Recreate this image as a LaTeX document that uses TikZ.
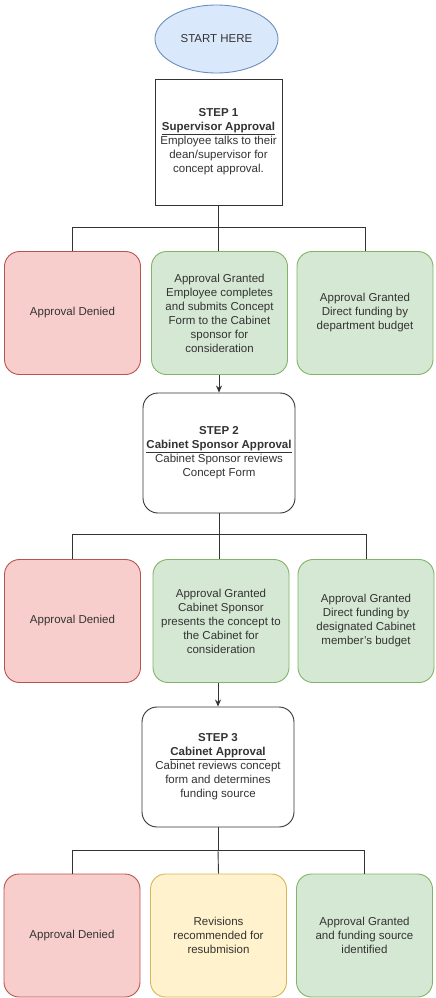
\documentclass[tikz,border=0pt]{standalone}
\usepackage{fontspec}
\setmainfont{Liberation Sans}
\usetikzlibrary{shapes.geometric,arrows.meta}
\definecolor{redfill}{HTML}{F8CECC}\definecolor{redline}{HTML}{B85450}
\definecolor{greenfill}{HTML}{D5E8D4}\definecolor{greenline}{HTML}{82B366}
\definecolor{yelfill}{HTML}{FFF2CC}\definecolor{yelline}{HTML}{D6B656}
\definecolor{bluefill}{HTML}{DAE8FC}\definecolor{blueline}{HTML}{6C8EBF}
\definecolor{txt}{HTML}{333333}
\tikzset{
  base/.style={draw, align=center, text=txt, font=\fontsize{11.5}{14}\selectfont, inner sep=2pt, line width=0.9pt},
  startnode/.style={base, ellipse, fill=bluefill, draw=blueline, minimum width=123pt, minimum height=68pt},
  stepsq/.style={base, rectangle, fill=white, draw=black!80, minimum width=127pt, minimum height=126pt},
  steprnd/.style={base, rectangle, rounded corners=15pt, fill=white, draw=black!80, minimum width=152pt, minimum height=120pt},
  outbox/.style={base, rectangle, rounded corners=15pt, minimum width=136pt, minimum height=123pt},
  denied/.style={outbox, fill=redfill, draw=redline},
  granted/.style={outbox, fill=greenfill, draw=greenline},
  revise/.style={outbox, fill=yelfill, draw=yelline},
  conn/.style={draw=black!80, line width=0.9pt},
  arr/.style={conn, -{Stealth[length=7pt,width=6pt]}}
}
\newcommand{\hd}[1]{\underline{\textbf{#1}}}
\begin{document}
\begin{tikzpicture}[x=1pt,y=-1pt]
\useasboundingbox (0,0) rectangle (436,998);
\node[startnode] (start) at (216.5,39) {START HERE};
\node[stepsq] (step1) at (218.5,142) {\textbf{STEP 1}\\\hd{Supervisor Approval}\\Employee talks to their\\dean/supervisor for\\concept approval.};

\node[denied] (d1) at (72.5,313) {Approval Denied};
\node[granted] (g1) at (219.5,313) {Approval Granted\\Employee completes\\and submits Concept\\Form to the Cabinet\\sponsor for\\consideration};
\node[granted] (f1) at (365,313) {Approval Granted\\Direct funding by\\department budget};

\node[steprnd] (step2) at (219,453) {\textbf{STEP 2}\\\hd{Cabinet Sponsor Approval}\\Cabinet Sponsor reviews\\Concept Form};

\node[denied] (d2) at (72.5,621) {Approval Denied};
\node[granted] (g2) at (221,621) {Approval Granted\\Cabinet Sponsor\\presents the concept to\\the Cabinet for\\consideration};
\node[granted] (f2) at (366,621) {Approval Granted\\Direct funding by\\designated Cabinet\\member's budget};

\node[steprnd] (step3) at (218,767) {\textbf{STEP 3}\\\hd{Cabinet Approval}\\Cabinet reviews concept\\form and determines\\funding source};

\node[denied] (d3) at (72,935.5) {Approval Denied};
\node[revise] (r3) at (218.5,935.5) {Revisions\\recommended for\\resubmision};
\node[granted] (g3) at (364.5,935.5) {Approval Granted\\and funding source\\identified};

\coordinate (b1) at (218.5,227);
\coordinate (b2) at (219,534);
\coordinate (b3) at (218,850);

\draw[conn] (step1.south) -- (b1) -| (d1.north);
\draw[conn] (b1) -| (f1.north);
\draw[conn] (b1) -- (b1 |- g1.north);
\draw[arr] (g1.south -| step2.north) -- (step2.north);

\draw[conn] (step2.south) -- (b2) -| (d2.north);
\draw[conn] (b2) -| (f2.north);
\draw[conn] (b2) -- (b2 |- g2.north);
\draw[arr] (g2.south -| step3.north) -- (step3.north);

\draw[conn] (step3.south) -- (b3) -| (d3.north);
\draw[conn] (b3) -| (g3.north);
\draw[conn] (b3) -- (r3.north);
\end{tikzpicture}
\end{document}
